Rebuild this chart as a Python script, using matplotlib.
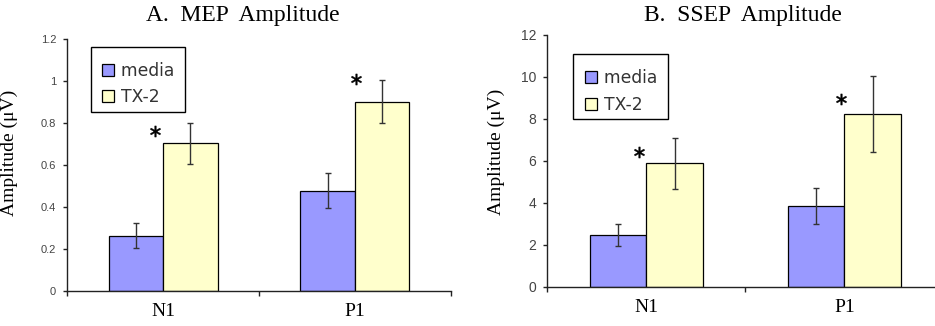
import matplotlib
matplotlib.use("Agg")
import matplotlib.pyplot as plt
from matplotlib.patches import Patch, Rectangle
from matplotlib.legend_handler import HandlerPatch
import numpy as np

categories = ["N1", "P1"]
series = ["media", "TX-2"]

mep_media = [0.264, 0.478]
mep_media_err = [0.060, 0.084]
mep_tx2 = [0.704, 0.903]
mep_tx2_err = [0.097, 0.102]
mep_star_x = [-0.042, 1.006]
mep_star_y = [0.764, 1.012]

ssep_media = [2.46, 3.83]
ssep_media_err = [0.54, 0.86]
ssep_tx2 = [5.88, 8.23]
ssep_tx2_err = [1.22, 1.82]
ssep_star_x = [-0.037, 0.982]
ssep_star_y = [6.44, 8.94]

mep_yticks = [0, 0.2, 0.4, 0.6, 0.8, 1, 1.2]
mep_yticklabels = ["0", "0.2", "0.4", "0.6", "0.8", "1", "1.2"]
ssep_yticks = [0, 2, 4, 6, 8, 10, 12]
ssep_yticklabels = ["0", "2", "4", "6", "8", "10", "12"]

titles = ["A.  MEP  Amplitude", "B.  SSEP  Amplitude"]
ylabel = "Amplitude (\u03bcV)"

c_media = "#9999FF"
c_tx2 = "#FFFFCC"


def square_handle(legend, orig_handle, xdescent, ydescent, width, height, fontsize):
    side = height
    return Rectangle((-xdescent + width - side, -ydescent), side, side)


fig = plt.figure(figsize=(9.35, 3.26), dpi=100)
axA = fig.add_axes([67.3/935, 35/326, 383.4/935, 251.7/326])
axB = fig.add_axes([547.3/935, 39.3/326, 396/935, 251.7/326])


def draw(ax, media, media_err, tx2, tx2_err, sx, sy, ylim, yticks, yticklabels,
         tickfs, legend_anchor, label_y):
    x = np.arange(len(categories))
    w = 0.285
    ax.bar(x - w/2, media, w, color=c_media, edgecolor="black", linewidth=0.9, zorder=2)
    ax.bar(x + w/2, tx2, w, color=c_tx2, edgecolor="black", linewidth=0.9, zorder=2)
    ax.errorbar(x - w/2, media, yerr=media_err, fmt="none", ecolor="#333333",
                elinewidth=1, capsize=2.5, capthick=1, zorder=3)
    ax.errorbar(x + w/2, tx2, yerr=tx2_err, fmt="none", ecolor="#333333",
                elinewidth=1, capsize=2.5, capthick=1, zorder=3)
    ax.plot(sx, sy, linestyle="none", marker=r"$\ast$", markersize=8,
            color="black", markeredgewidth=0.3, zorder=4)
    ax.set_xlim(-0.5, 1.5)
    ax.set_ylim(*ylim)
    ax.set_yticks(yticks)
    ax.set_yticklabels(yticklabels, fontsize=tickfs, family="Liberation Sans", color="#444444")
    ax.set_xticks([-0.5, 0.5, 1.5])
    ax.set_xticklabels([])
    ax.set_xticks(x, minor=True)
    ax.set_xticklabels(categories, minor=True, family="Liberation Serif", fontsize=14)
    ax.tick_params(axis="x", which="minor", length=0, pad=9)
    ax.tick_params(axis="x", which="major", length=3.5, width=1, direction="out", color="#222222")
    ax.tick_params(axis="y", length=3, width=1, direction="out", pad=5, color="#222222")
    for s in ["top", "right"]:
        ax.spines[s].set_visible(False)
    for s in ["left", "bottom"]:
        ax.spines[s].set_linewidth(1)
        ax.spines[s].set_color("#222222")
    ax.set_ylabel(ylabel, family="Liberation Serif", fontsize=14)
    ax.yaxis.set_label_coords(label_y[0], label_y[1])
    handles = [Patch(facecolor=c_media, edgecolor="black", linewidth=0.9),
               Patch(facecolor=c_tx2, edgecolor="black", linewidth=0.9)]
    labels = [s + " " for s in series]
    leg = ax.legend(handles, labels, loc="upper left", bbox_to_anchor=legend_anchor,
                    frameon=True, fancybox=False, edgecolor="black", framealpha=1,
                    prop={"family": "DejaVu Sans", "size": 12.3},
                    title=" ", title_fontsize=0.8,
                    handler_map={Patch: HandlerPatch(patch_func=square_handle)},
                    handlelength=1.05, handleheight=0.7, handletextpad=0.4,
                    labelspacing=0.5, borderpad=0.33, borderaxespad=0)
    leg.get_frame().set_linewidth(1)
    for t in leg.get_texts():
        t.set_color("#333333")


draw(axA, mep_media, mep_media_err, mep_tx2, mep_tx2_err, mep_star_x, mep_star_y,
     (0, 1.2), mep_yticks, mep_yticklabels, 8, (0.061, 0.971), (-0.128, 0.55))
draw(axB, ssep_media, ssep_media_err, ssep_tx2, ssep_tx2_err, ssep_star_x, ssep_star_y,
     (0, 12), ssep_yticks, ssep_yticklabels, 10, (0.0657, 0.924), (-0.106, 0.536))

fig.text(243/935, 1 - 16/326, titles[0], ha="center", va="center",
         family="Liberation Serif", fontsize=17)
fig.text(743.3/935, 1 - 16/326, titles[1], ha="center", va="center",
         family="Liberation Serif", fontsize=17)

fig.savefig("out.png", dpi=100)
